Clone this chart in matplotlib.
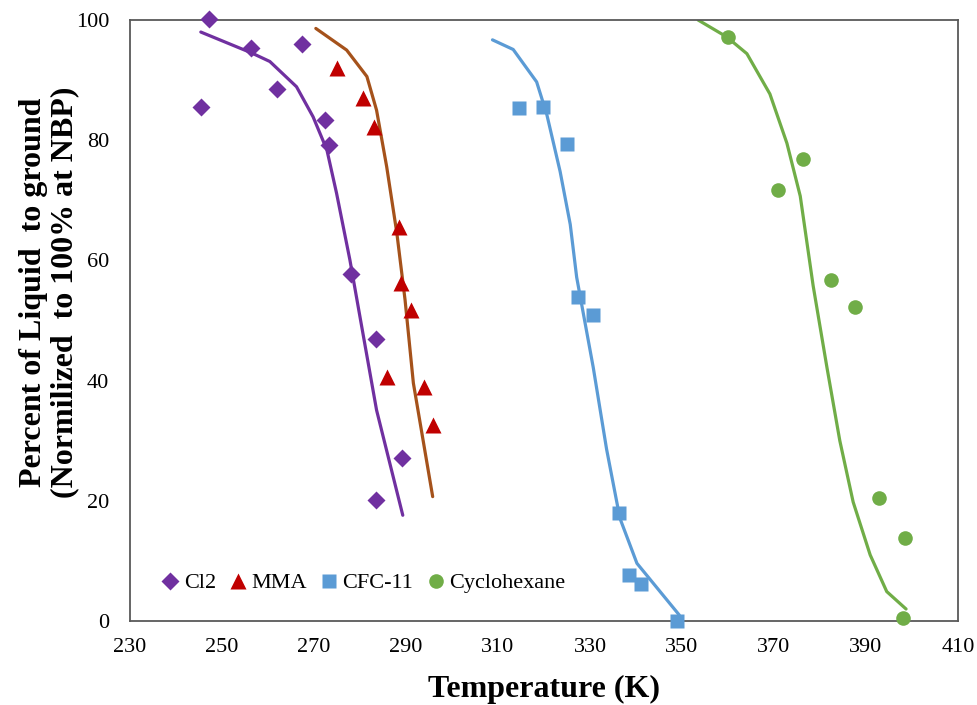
import matplotlib
matplotlib.use("Agg")
import matplotlib.pyplot as plt

plt.rcParams['font.family'] = ['Liberation Serif', 'DejaVu Serif']

# measured points (temperature K, percent of liquid)
cl2_T = [247.2, 245.4, 256.3, 262.0, 267.4, 272.4, 273.3, 278.0, 283.5, 289.1, 283.5]
cl2_p = [100.2, 85.6, 95.3, 88.5, 96.0, 83.4, 79.2, 57.7, 47.0, 27.2, 20.1]

mma_T = [274.9, 280.6, 283.0, 288.5, 288.9, 291.1, 285.8, 293.9, 295.8]
mma_p = [92.0, 87.1, 82.2, 65.6, 56.3, 51.7, 40.6, 38.9, 32.6]

cfc_T = [314.6, 319.8, 324.9, 327.3, 330.7, 336.2, 338.5, 341.0, 348.8]
cfc_p = [85.4, 85.6, 79.3, 53.9, 50.9, 18.0, 7.7, 6.2, 0.0]

cyc_T = [359.9, 370.8, 376.2, 382.3, 387.6, 392.8, 398.5, 398.1]
cyc_p = [97.2, 71.7, 76.8, 56.8, 52.2, 20.5, 13.8, 0.5]

# fitted curves
cl2_fit_T = [245.4, 256.5, 260.4, 266.2, 269.8, 272.8, 274.9, 277.8, 280.0, 283.6, 289.3]
cl2_fit_p = [98.0, 94.5, 93.1, 88.9, 83.9, 78.4, 71.2, 60.1, 50.6, 35.1, 17.6]

mma_fit_T = [270.4, 277.1, 281.5, 283.6, 285.8, 288.0, 289.8, 291.6, 295.8]
mma_fit_p = [98.6, 95.0, 90.6, 85.0, 75.6, 64.6, 53.4, 39.6, 20.7]

cfc_fit_T = [308.8, 313.3, 318.4, 320.6, 323.5, 325.7, 327.1, 330.7, 333.6, 336.5, 340.2, 349.4]
cfc_fit_p = [96.7, 95.1, 89.7, 84.3, 74.8, 66.0, 57.2, 42.2, 28.6, 17.1, 9.6, 1.0]

cyc_fit_T = [353.5, 359.7, 364.1, 369.1, 372.8, 375.7, 378.5, 381.5, 384.3, 387.2, 390.9, 394.5, 398.7]
cyc_fit_p = [100.0, 97.2, 94.4, 87.7, 79.5, 70.7, 55.8, 42.2, 30.0, 19.8, 11.0, 4.9, 2.0]

x_ticks = [230, 250, 270, 290, 310, 330, 350, 370, 390, 410]
y_ticks = [0, 20, 40, 60, 80, 100]

fig = plt.figure(figsize=(9.78, 7.05), dpi=100)
ax = fig.add_axes([0.1329, 0.1191, 0.8467, 0.8525])

lw = 2.3
for T, p, c in [(cl2_fit_T, cl2_fit_p, '#7030A0'), (mma_fit_T, mma_fit_p, '#A5521B'),
                (cfc_fit_T, cfc_fit_p, '#5B9BD5'), (cyc_fit_T, cyc_fit_p, '#70AD47')]:
    ax.plot(T, p, color=c, lw=lw, zorder=2, solid_joinstyle='round', solid_capstyle='round')

ax.plot(cl2_T, cl2_p, 'D', color='#7030A0', ms=9.3, mec='none', label='Cl2', zorder=3, clip_on=False)
ax.plot(mma_T, mma_p, '^', color='#C00000', ms=11, mec='none', label='MMA', zorder=3, clip_on=False)
ax.plot(cfc_T, cfc_p, 's', color='#5B9BD5', ms=10, mec='none', label='CFC-11', zorder=3, clip_on=False)
ax.plot(cyc_T, cyc_p, 'o', color='#70AD47', ms=10.5, mec='none', label='Cyclohexane', zorder=3, clip_on=False)

ax.set_xlim(230, 410)
ax.set_ylim(0, 100)
ax.set_xticks(x_ticks)
ax.set_yticks(y_ticks)
ax.tick_params(axis='both', length=0, labelsize=16)
ax.tick_params(axis='x', pad=12)
ax.tick_params(axis='y', pad=15)

for s in ax.spines.values():
    s.set_color('#595959')
    s.set_linewidth(1.3)

ax.set_xlabel('Temperature (K)', fontsize=23, fontweight='bold')
ax.xaxis.set_label_coords(0.5, -0.09)
ax.set_ylabel('Percent of Liquid  to ground\n(Normilized  to 100% at NBP)',
              fontsize=23, fontweight='bold', linespacing=1.1)
ax.yaxis.set_label_coords(-0.061, 0.547)

ax.legend(loc='center left', bbox_to_anchor=(0.038, 0.063), ncol=4, frameon=False,
          fontsize=16, handlelength=0.8, handletextpad=0.2, columnspacing=0.6,
          borderaxespad=0, borderpad=0)

fig.savefig('out.png', dpi=100)
